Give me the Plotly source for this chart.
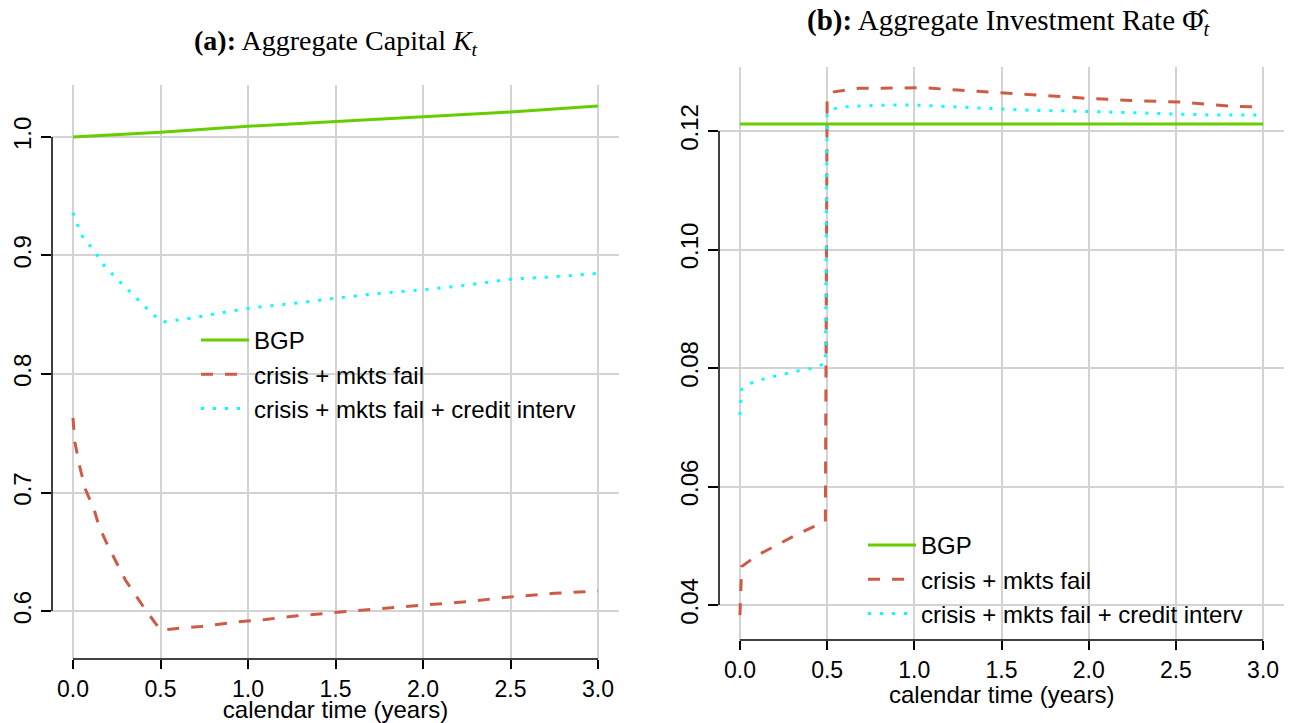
import plotly.graph_objects as go

# ---------------- data ----------------
# Panel (a): Aggregate capital K_t
t_K_bgp = [0.0, 0.5, 1.0, 1.5, 2.0, 2.5, 3.0]
K_bgp = [1.000, 1.004, 1.009, 1.013, 1.017, 1.021, 1.026]

t_K_crisis = [0.0, 0.01, 0.04, 0.07, 0.12, 0.15, 0.2, 0.25, 0.3, 0.36, 0.41, 0.48, 0.5,
              0.57, 0.73, 0.94, 1.1, 1.28, 1.5, 1.75, 2.0, 2.25, 2.5, 2.75, 3.0]
K_crisis = [0.763, 0.743, 0.721, 0.703, 0.686, 0.671, 0.655, 0.640, 0.626, 0.613, 0.602, 0.588, 0.584,
            0.585, 0.587, 0.591, 0.593, 0.596, 0.599, 0.602, 0.605, 0.608, 0.612, 0.615, 0.617]

t_K_credit = [0.0, 0.05, 0.12, 0.18, 0.26, 0.34, 0.41, 0.49, 0.52, 0.67, 0.78, 0.9, 1.03,
              1.16, 1.29, 1.5, 1.75, 2.0, 2.25, 2.5, 2.75, 3.0]
K_credit = [0.936, 0.917, 0.904, 0.891, 0.879, 0.867, 0.857, 0.846, 0.844, 0.847, 0.850, 0.853, 0.856,
            0.858, 0.860, 0.864, 0.868, 0.871, 0.875, 0.880, 0.882, 0.885]

# Panel (b): Aggregate investment rate
t_I_bgp = [0.0, 3.0]
I_bgp = [0.1212, 0.1212]

t_I_crisis = [0.0, 0.01, 0.1, 0.21, 0.32, 0.42, 0.49, 0.5, 0.54, 0.68, 0.87, 1.06, 1.25,
              1.41, 1.58, 1.72, 1.86, 2.0, 2.14, 2.28, 2.52, 2.66, 2.8, 2.94, 3.0]
I_crisis = [0.0383, 0.0465, 0.0484, 0.0501, 0.0518, 0.0532, 0.0541, 0.1258, 0.1266, 0.1272, 0.1273,
            0.1273, 0.1269, 0.1266, 0.1262, 0.1259, 0.1257, 0.1255, 0.1253, 0.1251, 0.1249, 0.1245,
            0.1242, 0.1241, 0.1240]

t_I_credit = [0.0, 0.01, 0.06, 0.15, 0.23, 0.33, 0.42, 0.46, 0.49, 0.5, 0.56, 0.68, 0.87, 0.99,
              1.15, 1.34, 1.5, 1.66, 1.86, 2.0, 2.16, 2.33, 2.52, 2.71, 3.0]
I_credit = [0.0721, 0.0764, 0.0774, 0.0783, 0.0788, 0.0795, 0.0800, 0.0805, 0.0808, 0.1230, 0.1240,
            0.1242, 0.1244, 0.1244, 0.1242, 0.1240, 0.1237, 0.1235, 0.1234, 0.1233, 0.1231, 0.1230,
            0.1229, 0.1227, 0.1227]

series_names = ["BGP", "crisis + mkts fail", "crisis + mkts fail + credit interv"]

x_ticks = [0.0, 0.5, 1.0, 1.5, 2.0, 2.5, 3.0]
x_ticktext = ["0.0", "0.5", "1.0", "1.5", "2.0", "2.5", "3.0"]
yK_ticks = [0.6, 0.7, 0.8, 0.9, 1.0]
yK_ticktext = ["0.6", "0.7", "0.8", "0.9", "1.0"]
yI_ticks = [0.04, 0.06, 0.08, 0.10, 0.12]
yI_ticktext = ["0.04", "0.06", "0.08", "0.10", "0.12"]

title_a = "<b>(a):</b> Aggregate Capital <i>K<sub>t</sub></i>"
title_b = "<b>(b):</b> Aggregate Investment Rate Φ\u0302<sub><i>t</i></sub>"
x_title = "calendar time (years)"

# ---------------- styles ----------------
GREEN = "#66CD00"
RED = "#CD5B45"
CYAN = "#00FFFF"
LW = 3
SANS = "Liberation Sans, Arial, sans-serif"
SERIF = "Liberation Serif, Times New Roman, serif"
FS = 24
W, H = 1292, 723

styles = [dict(color=GREEN, width=LW, dash="solid"),
          dict(color=RED, width=LW, dash="12px,12px"),
          dict(color=CYAN, width=LW, dash="3px,9px")]

fig = go.Figure()

left = [(t_K_bgp, K_bgp), (t_K_crisis, K_crisis), (t_K_credit, K_credit)]
right = [(t_I_bgp, I_bgp), (t_I_crisis, I_crisis), (t_I_credit, I_credit)]

for (tx, vy), nm, st in zip(left, series_names, styles):
    fig.add_trace(go.Scatter(x=tx, y=vy, mode="lines", name=nm, line=st,
                             xaxis="x", yaxis="y", legend="legend"))
for (tx, vy), nm, st in zip(right, series_names, styles):
    fig.add_trace(go.Scatter(x=tx, y=vy, mode="lines", name=nm, line=st,
                             xaxis="x2", yaxis="y2", legend="legend2"))

def px_x(p):
    return p / W

def px_y(p):
    return 1 - p / H

axis_common = dict(showgrid=True, gridcolor="#D3D3D3", gridwidth=1.5, zeroline=False,
                   showline=False, ticks="outside", tickwidth=1.5, tickcolor="black",
                   fixedrange=True)
xtick_font = dict(family=SANS, size=23, color="black")
ytick_font = dict(family=SANS, size=FS, color="black")

xtitle_font = dict(family=SANS, size=24, color="black")
legend_font = dict(family=SANS, size=24, color="black")

fig.update_layout(
    width=W, height=H, margin=dict(l=0, r=0, t=0, b=0),
    paper_bgcolor="white", plot_bgcolor="white",
    xaxis=dict(domain=[px_x(52), px_x(619)], range=[-0.12, 3.12], anchor="y",
               tickvals=x_ticks, ticktext=x_ticktext, ticklen=9, tickfont=xtick_font,
               title=dict(text=x_title, font=xtitle_font, standoff=2),
               **axis_common),
    yaxis=dict(domain=[px_y(659), px_y(85)], range=[0.5596, 1.0438], anchor="x",
               tickvals=yK_ticks, ticktext=yK_ticktext, tickangle=-90, ticklen=10,
               tickfont=ytick_font, **axis_common),
    xaxis2=dict(domain=[px_x(719), px_x(1284)], range=[-0.12, 3.12], anchor="y2",
                tickvals=x_ticks, ticktext=x_ticktext, ticklen=9, tickfont=xtick_font,
                **axis_common),
    yaxis2=dict(domain=[px_y(640), px_y(67)], range=[0.0341, 0.1308], anchor="x2",
                tickvals=yI_ticks, ticktext=yI_ticktext, tickangle=-90, ticklen=10,
                tickfont=ytick_font, **axis_common),
    legend=dict(x=px_x(196), y=px_y(318), xanchor="left", yanchor="top",
                bgcolor="rgba(0,0,0,0)", borderwidth=0,
                font=legend_font, itemwidth=48, tracegroupgap=0),
    legend2=dict(x=px_x(863), y=px_y(523), xanchor="left", yanchor="top",
                 bgcolor="rgba(0,0,0,0)", borderwidth=0,
                 font=legend_font, itemwidth=48, tracegroupgap=0),
    showlegend=True,
)

# R-style axis lines spanning only the tick range
for xa, ya, yt in [("x", "y", yK_ticks), ("x2", "y2", yI_ticks)]:
    fig.add_shape(type="line", xref=xa, yref=ya + " domain", x0=x_ticks[0], x1=x_ticks[-1],
                  y0=0, y1=0, line=dict(color="black", width=1.5))
    fig.add_shape(type="line", xref=xa + " domain", yref=ya, x0=0, x1=0,
                  y0=yt[0], y1=yt[-1], line=dict(color="black", width=1.5))

# right panel x-axis title (placed like the R plot's mtext)
fig.add_annotation(text=x_title, xref="x2 domain", yref="paper", x=0.5, y=px_y(694),
                   showarrow=False, xanchor="center", yanchor="middle", borderpad=0,
                   font=xtitle_font)

fig.add_annotation(text=title_a, xref="paper", yref="paper", x=px_x(336), y=px_y(42),
                   showarrow=False, xanchor="center", yanchor="middle",
                   font=dict(family=SERIF, size=28, color="black"))
fig.add_annotation(text=title_b, xref="paper", yref="paper", x=px_x(1008), y=px_y(22),
                   showarrow=False, xanchor="center", yanchor="middle",
                   font=dict(family=SERIF, size=29, color="black"))

fig.write_html("out.html")
